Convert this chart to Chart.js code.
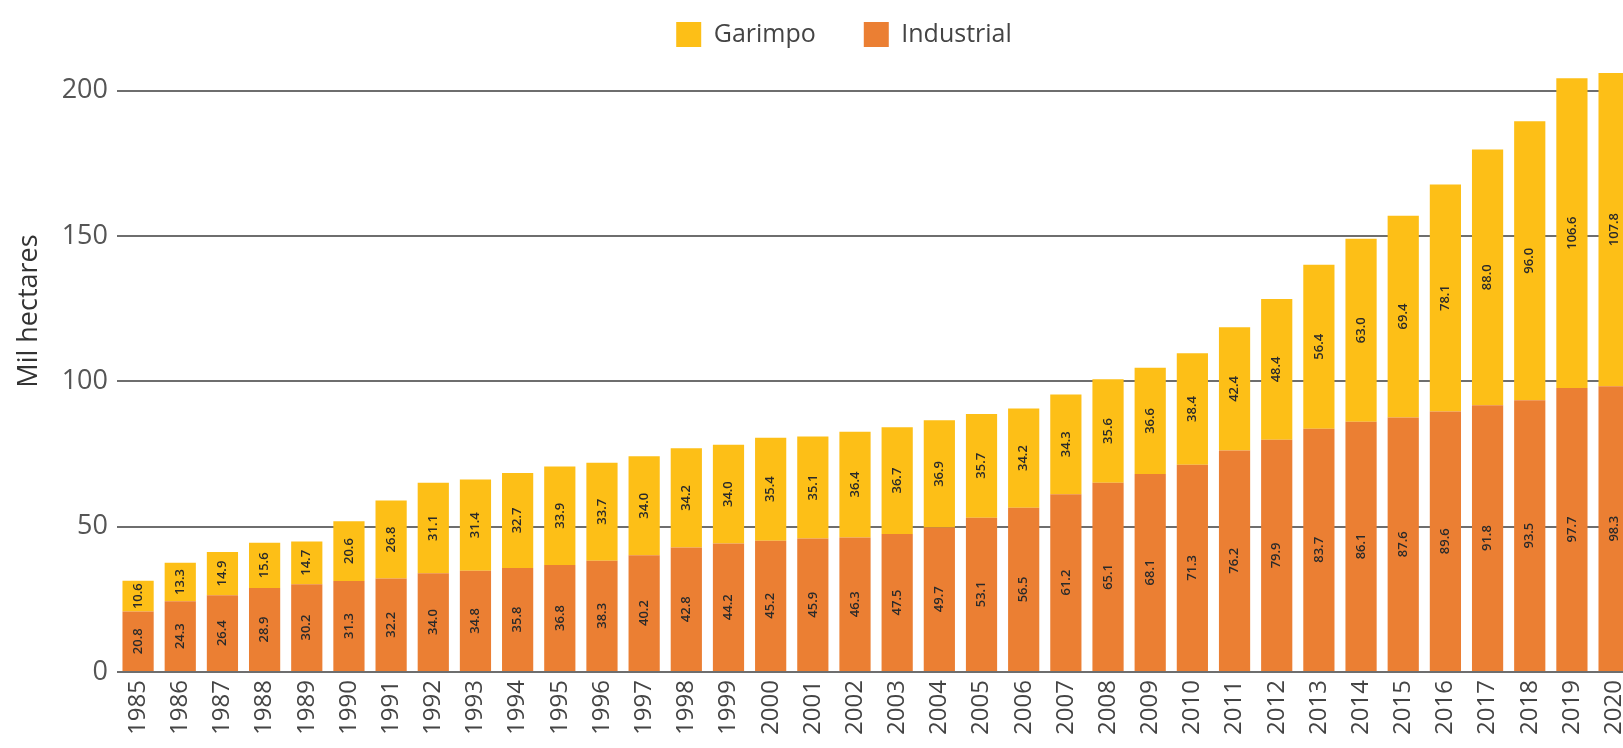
<!DOCTYPE html>
<html>
<head>
<meta charset="utf-8">
<script src="https://cdn.jsdelivr.net/npm/chart.js@4/dist/chart.umd.min.js"></script>
<style>
  html, body { margin: 0; padding: 0; background: #ffffff; overflow: hidden; }
  #wrap { width: 1651px; height: 748px; }
</style>
</head>
<body>
<div id="wrap"><canvas id="c" width="1651" height="748"></canvas></div>
<script>
const years = ['1985','1986','1987','1988','1989','1990','1991','1992','1993','1994','1995','1996','1997','1998','1999','2000','2001','2002','2003','2004','2005','2006','2007','2008','2009','2010','2011','2012','2013','2014','2015','2016','2017','2018','2019','2020'];
const industrial = [20.8,24.3,26.4,28.9,30.2,31.3,32.2,34.0,34.8,35.8,36.8,38.3,40.2,42.8,44.2,45.2,45.9,46.3,47.5,49.7,53.1,56.5,61.2,65.1,68.1,71.3,76.2,79.9,83.7,86.1,87.6,89.6,91.8,93.5,97.7,98.3];
const garimpo = [10.6,13.3,14.9,15.6,14.7,20.6,26.8,31.1,31.4,32.7,33.9,33.7,34.0,34.2,34.0,35.4,35.1,36.4,36.7,36.9,35.7,34.2,34.3,35.6,36.6,38.4,42.4,48.4,56.4,63.0,69.4,78.1,88.0,96.0,106.6,107.8];
const yTicks = [0, 50, 100, 150, 200];
const seriesNames = ['Industrial', 'Garimpo'];
const axisTitle = 'Mil hectares';

const FONT = '"Open Sans", "Lato", sans-serif';

const barLabels = {
  id: 'barLabels',
  afterDatasetsDraw(chart) {
    const ctx = chart.ctx;
    ctx.save();
    ctx.font = '600 13px ' + FONT;
    ctx.fillStyle = '#2a2a2a';
    ctx.textAlign = 'center';
    ctx.textBaseline = 'middle';
    chart.data.datasets.forEach((ds, i) => {
      const meta = chart.getDatasetMeta(i);
      meta.data.forEach((el, j) => {
        const cy = (el.y + el.base) / 2;
        ctx.save();
        ctx.translate(el.x, cy);
        ctx.rotate(-Math.PI / 2);
        ctx.fillText(ds.data[j].toFixed(1), 0, 0);
        ctx.restore();
      });
    });
    ctx.restore();
  }
};

// y-axis title, placed a little above the axis centre as in the original
const yTitle = {
  id: 'yTitle',
  afterDraw(chart) {
    const ctx = chart.ctx;
    const t = chart.options.scales.y.title;
    ctx.save();
    ctx.font = '27px ' + FONT;
    ctx.fillStyle = '#333333';
    ctx.textAlign = 'center';
    ctx.textBaseline = 'alphabetic';
    ctx.translate(37, 311);
    ctx.rotate(-Math.PI / 2);
    ctx.fillText(t.text, 0, 0);
    ctx.restore();
  }
};

const legendShift = {
  id: 'legendShift',
  afterLayout(chart) {
    const lg = chart.legend;
    if (!lg) return;
    const c = (lg.left + lg.right) / 2;
    const dx = 844 - c;
    lg.left += dx;
    lg.right += dx;
  }
};

new Chart(document.getElementById('c'), {
  type: 'bar',
  data: {
    labels: years,
    datasets: [
      { label: seriesNames[0], data: industrial, backgroundColor: '#EB7F33', barPercentage: 0.74, categoryPercentage: 1.0 },
      { label: seriesNames[1], data: garimpo, backgroundColor: '#FDBF17', barPercentage: 0.74, categoryPercentage: 1.0 }
    ]
  },
  options: {
    responsive: false,
    animation: false,
    layout: { padding: { top: -26, left: 0, right: 8, bottom: 0 } },
    plugins: {
      legend: {
        position: 'top',
        align: 'center',
        labels: {
          boxWidth: 25,
          boxHeight: 25,
          padding: 48,
          color: '#444444',
          font: { family: FONT, size: 25 },
          sort: (a, b) => b.datasetIndex - a.datasetIndex
        }
      },
      tooltip: { enabled: false }
    },
    scales: {
      x: {
        stacked: true,
        grid: { display: false, drawTicks: false },
        border: { display: false },
        ticks: {
          minRotation: 90, maxRotation: 90,
          padding: 8,
          color: '#444444',
          font: { family: FONT, size: 24 }
        },
        afterFit(axis) { axis.height = 76; }
      },
      y: {
        stacked: true,
        min: 0,
        max: 211.6,
        afterBuildTicks(axis) {
          axis.ticks = yTicks.map(v => ({ value: v }));
        },
        grid: { color: '#6e6e6e', lineWidth: 2, drawTicks: false },
        border: { display: false },
        ticks: {
          padding: 9,
          color: '#555555',
          font: { family: FONT, size: 27 }
        },
        title: {
          display: false,
          text: axisTitle
        },
        afterFit(axis) { axis.width = 117; }
      }
    }
  },
  plugins: [barLabels, yTitle, legendShift]
});
</script>
</body>
</html>
